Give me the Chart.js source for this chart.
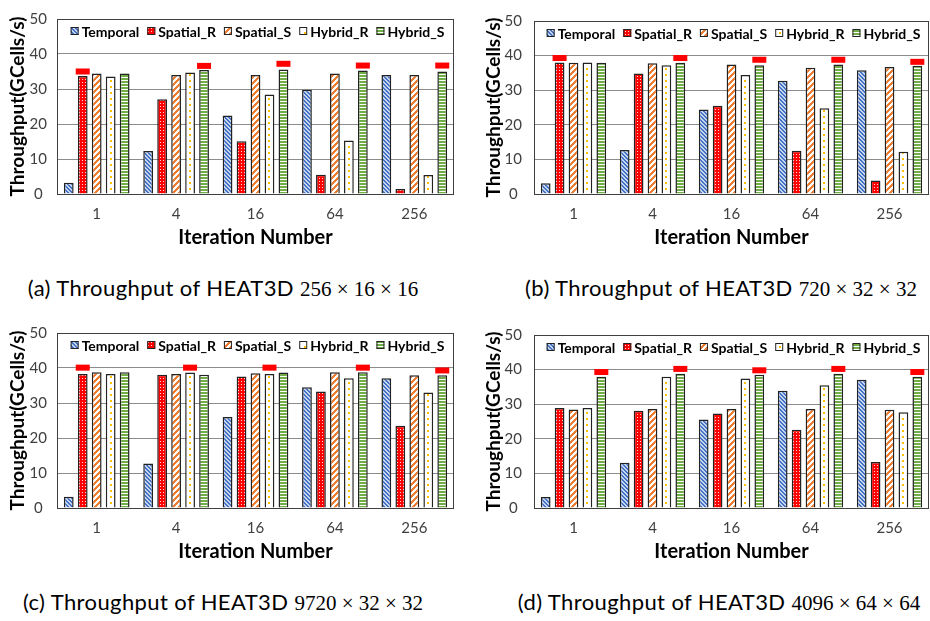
<!DOCTYPE html>
<html lang="en">
<head>
  <meta charset="UTF-8">
  <title>HEAT3D throughput</title>
  <script src="https://cdn.jsdelivr.net/npm/chart.js"></script>
  <style>
    body { margin: 0; width: 930px; height: 621px; background: #fff; position: relative; overflow: hidden; }
    canvas { position: absolute; }
    .cap { position: absolute; transform: translateX(-50%); white-space: nowrap; line-height: 26px;
           font-family: Lato, sans-serif; font-size: 22px; letter-spacing: 0.4px; color: #000; }
    .cap .m { font-family: "Liberation Serif", serif; font-size: 21px; letter-spacing: 0; }
  </style>
</head>
<body>
  <canvas id="chartA" width="460" height="252" style="left:0;top:0"></canvas>
  <canvas id="chartB" width="465" height="252" style="left:465px;top:0"></canvas>
  <canvas id="chartC" width="460" height="252" style="left:0;top:314px"></canvas>
  <canvas id="chartD" width="465" height="252" style="left:465px;top:314px"></canvas>

  <div class="cap" style="left:223px;top:275px">(a) Throughput of HEAT3D <span class="m">256 × 16 × 16</span></div>
  <div class="cap" style="left:721px;top:275px">(b) Throughput of HEAT3D <span class="m">720 × 32 × 32</span></div>
  <div class="cap" style="left:223px;top:589px">(c) Throughput of HEAT3D <span class="m">9720 × 32 × 32</span></div>
  <div class="cap" style="left:719px;top:589px">(d) Throughput of HEAT3D <span class="m">4096 × 64 × 64</span></div>

  <script>
    // categories and series
    const iterations = ['1', '4', '16', '64', '256'];
    const seriesNames = ['Temporal', 'Spatial_R', 'Spatial_S', 'Hybrid_R', 'Hybrid_S'];
    const yMax = 50;
    const yStep = 10;

    // (a) 256 x 16 x 16
    const aTemporal = [3.2, 12.3, 22.4, 29.8, 34.0];
    const aSpatialR = [33.7, 27.1, 15.1, 5.5, 1.4];
    const aSpatialS = [34.4, 34.0, 34.0, 34.4, 34.0];
    const aHybridR  = [33.6, 34.7, 28.4, 15.3, 5.4];
    const aHybridS  = [34.4, 35.4, 35.6, 35.3, 35.0];
    const aBestSeries = [1, 4, 4, 4, 4];
    const aBestMark   = [35.0, 36.6, 37.2, 36.7, 36.7];

    // (b) 720 x 32 x 32
    const bTemporal = [3.1, 12.7, 24.4, 32.7, 35.8];
    const bSpatialR = [38.0, 34.8, 25.5, 12.5, 3.9];
    const bSpatialS = [37.9, 37.8, 37.4, 36.5, 36.7];
    const bHybridR  = [38.0, 37.2, 34.4, 24.8, 12.2];
    const bHybridS  = [37.9, 37.9, 37.2, 37.4, 37.1];
    const bBestSeries = [1, 4, 4, 4, 4];
    const bBestMark   = [39.3, 39.3, 38.8, 38.8, 38.2];

    // (c) 9720 x 32 x 32
    const cTemporal = [3.2, 12.7, 26.0, 34.5, 37.1];
    const cSpatialR = [38.3, 38.1, 37.6, 33.3, 23.5];
    const cSpatialS = [38.8, 38.3, 38.5, 38.8, 37.9];
    const cHybridR  = [38.3, 38.7, 38.3, 37.1, 33.0];
    const cHybridS  = [38.8, 38.1, 38.7, 38.8, 37.9];
    const cBestSeries = [1, 3, 3, 4, 4];
    const cBestMark   = [40.1, 40.1, 40.1, 40.1, 39.3];

    // (d) 4096 x 64 x 64
    const dTemporal = [3.2, 13.1, 25.6, 33.9, 37.1];
    const dSpatialR = [28.9, 28.1, 27.3, 22.6, 13.3];
    const dSpatialS = [28.5, 28.6, 28.6, 28.6, 28.4];
    const dHybridR  = [28.9, 37.9, 37.4, 35.5, 27.7];
    const dHybridS  = [37.9, 38.8, 38.5, 38.8, 37.9];
    const dBestSeries = [4, 4, 4, 4, 4];
    const dBestMark   = [39.3, 40.2, 39.8, 40.2, 39.3];

    const BAR_PCT = 0.7;
    const CAT_PCT = 0.88;

    // hatch tiles, one per series
    function makeTile(w, h, draw) {
      const c = document.createElement('canvas');
      c.width = w; c.height = h;
      draw(c.getContext('2d'));
      return c;
    }
    const tiles = [
      makeTile(4, 4, (g) => {           // blue diagonal
        g.fillStyle = '#c5d5ef'; g.fillRect(0, 0, 4, 4);
        g.fillStyle = '#4472c4';
        for (let i = 0; i < 4; i++) { g.fillRect(i, i, 1, 1); g.fillRect(i, (i + 1) % 4, 1, 1); }
      }),
      makeTile(3, 3, (g) => {           // red with white dots
        g.fillStyle = '#ff0000'; g.fillRect(0, 0, 3, 3);
        g.fillStyle = '#ffd6d6'; g.fillRect(1, 1, 1, 1);
      }),
      makeTile(6, 6, (g) => {           // orange "/" stripes
        g.fillStyle = '#ffffff'; g.fillRect(0, 0, 6, 6);
        g.fillStyle = '#ed7d31';
        for (let i = 0; i < 6; i++) {
          g.fillRect(i, 5 - i, 1, 1); g.fillRect(i, (6 - i) % 6, 1, 1); g.fillRect(i, (10 - i) % 6, 1, 1);
        }
      }),
      makeTile(10, 6, (g) => {          // white with yellow dashes in the middle
        g.fillStyle = '#ffffff'; g.fillRect(0, 0, 10, 6);
        g.fillStyle = '#ffc000'; g.fillRect(4, 2, 2, 2);
      }),
      makeTile(1, 3, (g) => {           // green horizontal stripes
        g.fillStyle = '#70ad47'; g.fillRect(0, 0, 1, 2);
        g.fillStyle = '#ffffff'; g.fillRect(0, 2, 1, 1);
      })
    ];
    const tileCtx = document.createElement('canvas').getContext('2d');
    const patterns = tiles.map(t => tileCtx.createPattern(t, 'repeat'));

    // the yellow dashes sit in the middle of every Hybrid_R bar
    function hybridFill(c) {
      if (c.type !== 'data') return patterns[3];
      const xs = c.chart.scales.x;
      const pitch = (xs.right - xs.left) / iterations.length * CAT_PCT / seriesNames.length;
      const cx = xs.getPixelForValue(c.dataIndex) + (c.datasetIndex - 2) * pitch;
      const p = c.chart.ctx.createPattern(tiles[3], 'repeat');
      p.setTransform(new DOMMatrix().translate(Math.round(cx) - 5, 0));
      return p;
    }

    // plot frame
    const frame = {
      id: 'frame',
      beforeDatasetsDraw(chart) {
        const { ctx, chartArea: a } = chart;
        ctx.save();
        ctx.strokeStyle = '#404040';
        ctx.lineWidth = 1;
        ctx.strokeRect(a.left + 0.5, a.top + 0.5, a.right - a.left - 1, a.bottom - a.top);
        ctx.restore();
      }
    };

    // legend drawn inside the plot, along the top
    const innerLegend = {
      id: 'innerLegend',
      afterDatasetsDraw(chart) {
        const { ctx, chartArea: a } = chart;
        const box = 8, gap = 3, itemGap = 8;
        ctx.save();
        ctx.font = 'bold 14px Lato';
        ctx.textBaseline = 'middle';
        const ds = chart.data.datasets;
        const widths = ds.map(d => box + gap + ctx.measureText(d.label).width);
        const total = widths.reduce((s, w) => s + w, 0) + itemGap * (ds.length - 1);
        let x = (a.left + a.right) / 2 - total / 2 + 2;
        const y = a.top + 12;
        ds.forEach((d, i) => {
          ctx.fillStyle = patterns[i];
          ctx.fillRect(x, y - box / 2, box, box);
          ctx.strokeStyle = '#222';
          ctx.lineWidth = 1;
          ctx.strokeRect(x + 0.5, y - box / 2 + 0.5, box - 1, box - 1);
          ctx.fillStyle = '#000';
          ctx.fillText(d.label, x + box + gap, y + 1);
          x += widths[i] + itemGap;
        });
        ctx.restore();
      }
    };

    // red marker above the chosen bar of each group
    const bestMarks = {
      id: 'bestMarks',
      afterDatasetsDraw(chart, args, opts) {
        const { ctx } = chart;
        const yScale = chart.scales.y;
        ctx.save();
        ctx.fillStyle = '#ff0000';
        opts.series.forEach((s, j) => {
          const bar = chart.getDatasetMeta(s).data[j];
          const y = yScale.getPixelForValue(opts.values[j]);
          ctx.fillRect(bar.x - 7, y - 3, 14, 6);
        });
        ctx.restore();
      }
    };

    function makeChart(id, values, best, marks, geo) {
      const canvas = document.getElementById(id);
      return new Chart(canvas.getContext('2d'), {
        type: 'bar',
        data: {
          labels: iterations,
          datasets: seriesNames.map((name, i) => ({
            label: name,
            data: values[i],
            backgroundColor: i === 3 ? hybridFill : patterns[i],
            borderColor: '#222',
            borderWidth: 1.5,
            borderSkipped: 'bottom',
            barPercentage: BAR_PCT,
            categoryPercentage: CAT_PCT
          }))
        },
        options: {
          responsive: false,
          animation: false,
          layout: { padding: { top: geo.top, right: geo.right, bottom: 2, left: 0 } },
          plugins: {
            legend: { display: false },
            tooltip: { enabled: false },
            bestMarks: { series: best, values: marks }
          },
          scales: {
            x: {
              grid: { display: false, drawTicks: false },
              border: { display: false },
              ticks: { padding: 11, color: '#404040', font: { family: 'Lato', size: 15 } },
              title: {
                display: true, text: 'Iteration Number', color: '#000',
                font: { family: 'Lato', size: 20, weight: 'bold' }, padding: 0
              },
              afterFit: (s) => { s.height = geo.xHeight; }
            },
            y: {
              min: 0, max: yMax,
              grid: { color: '#8c8c8c', lineWidth: 1, drawTicks: false },
              border: { display: false },
              ticks: {
                stepSize: yStep, padding: geo.tickPad, crossAlign: 'center',
                color: '#404040', font: { family: 'Lato', size: 15 }
              },
              title: {
                display: true, text: 'Throughput(GCells/s)', color: '#000',
                font: { family: 'Lato', size: 19, weight: 'bold' },
                padding: { top: geo.titlePad, bottom: 0 }
              },
              afterFit: (s) => { s.width = geo.yWidth; }
            }
          }
        },
        plugins: [frame, innerLegend, bestMarks]
      });
    }

    const leftGeo  = { top: 6, right: 6, xHeight: 56, yWidth: 57, tickPad: 10, titlePad: 6 };
    const rightGeo = { top: 6, right: 1, xHeight: 56, yWidth: 69, tickPad: 12, titlePad: 17 };

    makeChart('chartA', [aTemporal, aSpatialR, aSpatialS, aHybridR, aHybridS], aBestSeries, aBestMark, leftGeo);
    makeChart('chartB', [bTemporal, bSpatialR, bSpatialS, bHybridR, bHybridS], bBestSeries, bBestMark, rightGeo);
    makeChart('chartC', [cTemporal, cSpatialR, cSpatialS, cHybridR, cHybridS], cBestSeries, cBestMark, leftGeo);
    makeChart('chartD', [dTemporal, dSpatialR, dSpatialS, dHybridR, dHybridS], dBestSeries, dBestMark, rightGeo);
  </script>
</body>
</html>
